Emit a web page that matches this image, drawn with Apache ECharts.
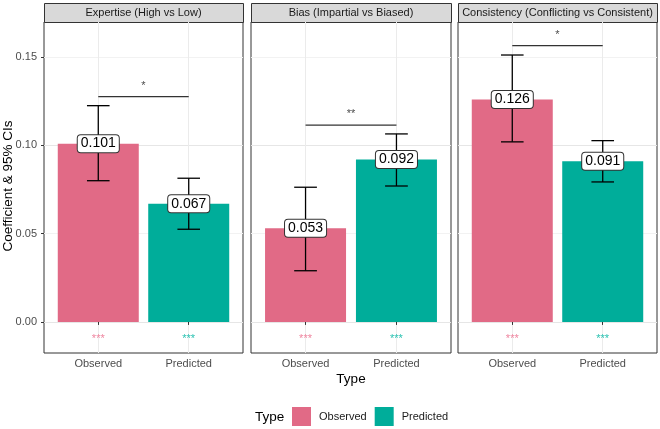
<!DOCTYPE html>
<html>
<head>
<meta charset="utf-8">
<script src="https://cdn.jsdelivr.net/npm/echarts@6/dist/echarts.min.js"></script>
<style>
  html, body { margin: 0; padding: 0; background: #fff; }
  #chart { width: 660px; height: 429px; }
</style>
</head>
<body>
<div id="chart"></div>
<script>
// datos
const panels = ['Expertise (High vs Low)', 'Bias (Impartial vs Biased)', 'Consistency (Conflicting vs Consistent)'];
const types = ['Observed', 'Predicted'];
const observed = [0.101, 0.053, 0.126];
const observedLow = [0.080, 0.029, 0.102];
const observedHigh = [0.1225, 0.0763, 0.1512];
const predicted = [0.067, 0.092, 0.091];
const predictedLow = [0.0525, 0.0770, 0.0793];
const predictedHigh = [0.0814, 0.1065, 0.1027];
const bracketY = [0.1276, 0.1115, 0.1565];
const bracketSig = ['*', '**', '*'];
const barSig = [['***', '***'], ['***', '***'], ['***', '***']];
const sigY = -0.0083;
const yTicks = [0, 0.05, 0.10, 0.15];
const yGrid = [0, 0.025, 0.05, 0.075, 0.10, 0.125, 0.15];

const colors = { Observed: '#E16A86', Predicted: '#00AD9A' };
const starColors = { Observed: '#EF86A0', Predicted: '#2CC2B2' };
const FONT = '"Liberation Sans", Arial, sans-serif';

const panelLeft = [44, 251, 458];
const panelWidth = [199, 200, 199];
const TOP = 22, BOTTOM = 76;

const chartDom = document.getElementById('chart');
const myChart = echarts.init(chartDom, null, { renderer: 'canvas' });

const grids = [], xAxes = [], yAxes = [], series = [], graphics = [];

panels.forEach((title, i) => {
    grids.push({
        left: panelLeft[i], width: panelWidth[i], top: TOP, bottom: BOTTOM,
        outerBoundsMode: 'none', containLabel: false,
        show: true, backgroundColor: '#fff', borderColor: '#333', borderWidth: 1
    });
    xAxes.push({
        type: 'value', gridIndex: i, min: 0.4, max: 2.6,
        axisLine: { show: false },
        axisTick: { show: true, customValues: [1, 2], length: 3, lineStyle: { color: '#333' } },
        axisLabel: {
            customValues: [1, 2], formatter: v => types[Math.round(v) - 1] || '',
            color: '#4D4D4D', fontSize: 11, fontFamily: FONT, margin: 5
        },
        splitLine: { show: true, customValues: [1, 2], lineStyle: { color: '#EBEBEB', width: 1 } }
    });
    yAxes.push({
        type: 'value', gridIndex: i, min: -0.0176, max: 0.1699,
        axisLine: { show: false },
        axisTick: { show: i === 0, customValues: yTicks, length: 3, lineStyle: { color: '#333' } },
        axisLabel: {
            show: i === 0, customValues: yTicks, formatter: v => v.toFixed(2),
            color: '#4D4D4D', fontSize: 11, fontFamily: FONT, margin: 7
        },
        splitLine: { show: true, customValues: yGrid, lineStyle: { color: ['#E6E6E6', '#F2F2F2'], width: 1 } }
    });

    const vals = [observed[i], predicted[i]];
    types.forEach((t, k) => {
        series.push({
            name: t, type: 'bar', xAxisIndex: i, yAxisIndex: i,
            barWidth: 81, barGap: '-100%',
            itemStyle: { color: colors[t] },
            data: [[k + 1, vals[k]]], z: 2
        });
    });

    // barras de error + etiqueta
    series.push({
        type: 'custom', xAxisIndex: i, yAxisIndex: i, z: 4, silent: true,
        data: [
            [1, observed[i], observedLow[i], observedHigh[i]],
            [2, predicted[i], predictedLow[i], predictedHigh[i]]
        ],
        renderItem(params, api) {
            const x = api.value(0);
            const hi = api.coord([x, api.value(3)]);
            const lo = api.coord([x, api.value(2)]);
            const mid = api.coord([x, api.value(1)]);
            const half = api.size([0.125, 0])[0];
            const st = { stroke: '#000', lineWidth: 1.3 };
            return {
                type: 'group', children: [
                    { type: 'line', shape: { x1: hi[0], y1: hi[1], x2: lo[0], y2: lo[1] }, style: st },
                    { type: 'line', shape: { x1: hi[0] - half, y1: hi[1], x2: hi[0] + half, y2: hi[1] }, style: st },
                    { type: 'line', shape: { x1: lo[0] - half, y1: lo[1], x2: lo[0] + half, y2: lo[1] }, style: st },
                    {
                        type: 'text', x: mid[0], y: mid[1], z2: 10,
                        style: {
                            text: api.value(1).toFixed(3), align: 'center', verticalAlign: 'middle',
                            fontSize: 14, fontFamily: FONT, fill: '#000',
                            backgroundColor: '#fff', borderColor: '#333', borderWidth: 1,
                            borderRadius: 3, padding: [2, 3, 1, 3]
                        }
                    }
                ]
            };
        }
    });

    // corchete de significación y estrellas
    series.push({
        type: 'custom', xAxisIndex: i, yAxisIndex: i, z: 3, silent: true,
        data: [[1, 2, bracketY[i]]],
        renderItem(params, api) {
            const a = api.coord([api.value(0), api.value(2)]);
            const b = api.coord([api.value(1), api.value(2)]);
            return {
                type: 'group', children: [
                    { type: 'line', shape: { x1: a[0], y1: a[1], x2: b[0], y2: b[1] }, style: { stroke: '#333', lineWidth: 1.3 } },
                    {
                        type: 'text', x: (a[0] + b[0]) / 2, y: a[1] - 11,
                        style: { text: bracketSig[i], align: 'center', verticalAlign: 'middle', fontSize: 11, fontFamily: FONT, fill: '#4D4D4D' }
                    }
                ]
            };
        }
    });
    series.push({
        type: 'custom', xAxisIndex: i, yAxisIndex: i, z: 3, silent: true,
        data: [[1, sigY, 0], [2, sigY, 1]],
        renderItem(params, api) {
            const k = api.value(2);
            const p = api.coord([api.value(0), api.value(1)]);
            return {
                type: 'text', x: p[0], y: p[1] + 2,
                style: {
                    text: barSig[i][k], align: 'center', verticalAlign: 'middle',
                    fontSize: 11, fontFamily: FONT, fill: starColors[types[k]]
                }
            };
        }
    });

    // cabecera del panel
    graphics.push({
        type: 'rect', left: panelLeft[i], top: 3,
        shape: { width: panelWidth[i], height: 19 },
        style: { fill: '#D9D9D9', stroke: '#333', lineWidth: 1 }
    });
    graphics.push({
        type: 'text', x: panelLeft[i] + panelWidth[i] / 2, y: 13,
        style: { text: title, align: 'center', verticalAlign: 'middle', fontSize: 11, fontFamily: FONT, fill: '#1A1A1A' }
    });
});

// títulos de ejes y leyenda
graphics.push({
    type: 'text', x: 8, y: 186, rotation: Math.PI / 2,
    style: { text: 'Coefficient & 95% CIs', align: 'center', verticalAlign: 'middle', fontSize: 13.5, fontFamily: FONT, fill: '#000' }
});
graphics.push({
    type: 'text', x: 351, y: 379,
    style: { text: 'Type', align: 'center', verticalAlign: 'middle', fontSize: 13.5, fontFamily: FONT, fill: '#000' }
});
graphics.push({
    type: 'text', x: 255, y: 417,
    style: { text: 'Type', align: 'left', verticalAlign: 'middle', fontSize: 13.5, fontFamily: FONT, fill: '#000' }
});

const option = {
    backgroundColor: '#fff',
    animation: false,
    grid: grids,
    xAxis: xAxes,
    yAxis: yAxes,
    legend: {
        data: types, left: 292, top: 407, padding: 0, itemWidth: 19, itemHeight: 19, itemGap: 8,
        icon: 'rect', selectedMode: false,
        textStyle: { fontSize: 11, fontFamily: FONT, color: '#1A1A1A', padding: [0, 0, 0, 3] }
    },
    series: series,
    graphic: graphics
};
myChart.setOption(option);
</script>
</body>
</html>
